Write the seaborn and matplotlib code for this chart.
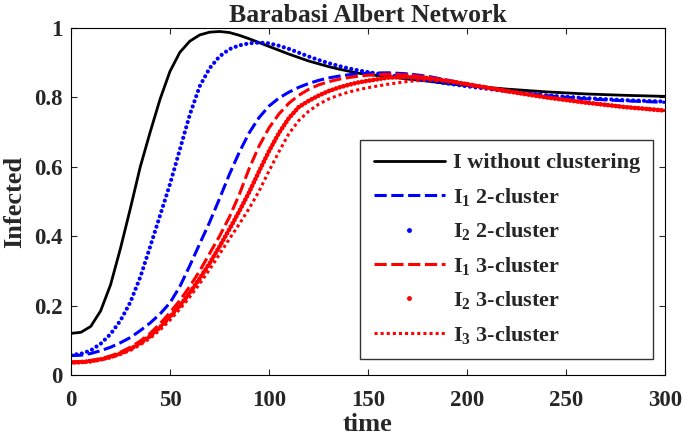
import numpy as np
import pandas as pd
import seaborn as sns
import matplotlib.pyplot as plt
from matplotlib.lines import Line2D

# time grid shared by all curves
time = [0, 5, 10, 15, 20, 25, 30, 35, 40, 45, 50, 55, 60, 65, 70, 75, 80, 85, 90, 95,
        100, 105, 110, 115, 120, 125, 130, 135, 140, 145, 150,
        160, 170, 180, 190, 200, 220, 240, 260, 280, 300]

# I without clustering
i_plain = [0.120, 0.123, 0.140, 0.185, 0.260, 0.365, 0.480, 0.600, 0.700, 0.795,
           0.875, 0.930, 0.962, 0.980, 0.988, 0.990, 0.987, 0.979, 0.969, 0.958,
           0.947, 0.936, 0.925, 0.915, 0.905, 0.897, 0.889, 0.882, 0.876, 0.870,
           0.866, 0.860, 0.853, 0.847, 0.840, 0.834, 0.824, 0.816, 0.810, 0.806, 0.803]

# 2-cluster
i1_two = [0.056, 0.057, 0.062, 0.070, 0.080, 0.093, 0.108, 0.128, 0.150, 0.176,
          0.208, 0.255, 0.315, 0.378, 0.440, 0.508, 0.578, 0.642, 0.698, 0.742,
          0.775, 0.798, 0.815, 0.829, 0.840, 0.849, 0.856, 0.861, 0.865, 0.868,
          0.870, 0.871, 0.868, 0.861, 0.850, 0.838, 0.819, 0.805, 0.796, 0.790, 0.786]
i2_two = [0.058, 0.061, 0.071, 0.090, 0.118, 0.157, 0.210, 0.282, 0.370, 0.460,
          0.550, 0.650, 0.750, 0.832, 0.884, 0.918, 0.939, 0.950, 0.956, 0.958,
          0.956, 0.949, 0.940, 0.929, 0.918, 0.908, 0.899, 0.891, 0.884, 0.878,
          0.873, 0.864, 0.857, 0.849, 0.840, 0.832, 0.818, 0.806, 0.798, 0.792, 0.788]

# 3-cluster
i1_three = [0.038, 0.039, 0.042, 0.047, 0.055, 0.066, 0.080, 0.098, 0.120, 0.148,
            0.180, 0.215, 0.255, 0.300, 0.350, 0.400, 0.455, 0.520, 0.595, 0.660,
            0.712, 0.752, 0.783, 0.806, 0.823, 0.836, 0.845, 0.852, 0.857, 0.861,
            0.864, 0.867, 0.865, 0.858, 0.848, 0.838, 0.818, 0.800, 0.785, 0.772, 0.762]
i2_three = [0.036, 0.037, 0.040, 0.045, 0.052, 0.062, 0.075, 0.092, 0.112, 0.138,
            0.168, 0.200, 0.237, 0.278, 0.322, 0.370, 0.420, 0.472, 0.527, 0.587,
            0.645, 0.697, 0.740, 0.772, 0.790, 0.805, 0.818, 0.828, 0.836, 0.843,
            0.848, 0.857, 0.859, 0.856, 0.848, 0.838, 0.818, 0.800, 0.785, 0.772, 0.762]
i3_three = [0.035, 0.036, 0.038, 0.043, 0.050, 0.059, 0.071, 0.087, 0.106, 0.130,
            0.158, 0.190, 0.225, 0.263, 0.304, 0.348, 0.392, 0.435, 0.480, 0.530,
            0.588, 0.643, 0.695, 0.733, 0.760, 0.780, 0.795, 0.806, 0.815, 0.822,
            0.828, 0.838, 0.846, 0.850, 0.847, 0.840, 0.820, 0.801, 0.786, 0.773, 0.763]

labels = ['I without clustering',
          r'I$_{\mathbf{1}}$ 2-cluster',
          r'I$_{\mathbf{2}}$ 2-cluster',
          r'I$_{\mathbf{1}}$ 3-cluster',
          r'I$_{\mathbf{2}}$ 3-cluster',
          r'I$_{\mathbf{3}}$ 3-cluster']

sns.set_style('ticks')
plt.rcParams['font.family'] = ['Liberation Serif', 'DejaVu Serif']
plt.rcParams['font.weight'] = 'bold'
plt.rcParams['mathtext.fontset'] = 'custom'
plt.rcParams['mathtext.rm'] = 'Liberation Serif:bold'
plt.rcParams['mathtext.bf'] = 'Liberation Serif:bold'
plt.rcParams['mathtext.it'] = 'Liberation Serif:bold'

fig = plt.figure(figsize=(6.85, 4.44), dpi=100)
ax = fig.add_axes([0.1036, 0.1554, 0.8672, 0.7815])

# draw curves
sns.lineplot(x=time, y=i_plain, ax=ax, color='black', linewidth=2.0)
sns.lineplot(x=time, y=i1_two, ax=ax, color='blue', linewidth=2.2,
             linestyle=(0, (4, 1.5)))
sns.lineplot(x=time, y=i2_two, ax=ax, color='blue', linewidth=3.0,
             linestyle=(0, (0.01, 1.3)), dash_capstyle='round')
sns.lineplot(x=time, y=i1_three, ax=ax, color='red', linewidth=2.2,
             linestyle=(0, (4, 1.5)))
sns.lineplot(x=time, y=i2_three, ax=ax, color='red', linewidth=3.4,
             linestyle=(0, (0.01, 0.8)), dash_capstyle='round')
sns.lineplot(x=time, y=i3_three, ax=ax, color='red', linewidth=2.2,
             linestyle=(0, (1, 1)))

ax.set_xlim(0, 300)
ax.set_ylim(0, 1)
ax.set_xticks([0, 50, 100, 150, 200, 250, 300])
ax.set_yticks([0, 0.2, 0.4, 0.6, 0.8, 1])
ax.set_yticklabels(['0', '0.2', '0.4', '0.6', '0.8', '1'])
ax.tick_params(direction='in', top=True, right=True, length=4, width=0.8,
               labelsize=16.5)
ax.tick_params(axis='x', pad=11)
ax.tick_params(axis='y', pad=6)
for sp in ax.spines.values():
    sp.set_visible(True)
    sp.set_linewidth(0.8)
    sp.set_color('black')

ax.set_title('Barabasi Albert Network', fontsize=18.5, fontweight='bold', pad=4)
ax.set_xlabel('time', fontsize=19, fontweight='bold', labelpad=1)
ax.set_ylabel('Infected', fontsize=19, fontweight='bold', labelpad=6)

handles = [
    Line2D([], [], color='black', lw=2.0),
    Line2D([], [], color='blue', lw=2.2, ls=(0, (4, 1.5))),
    Line2D([], [], color='blue', ls='none', marker='.', markersize=5),
    Line2D([], [], color='red', lw=2.2, ls=(0, (4, 1.5))),
    Line2D([], [], color='red', ls='none', marker='.', markersize=5),
    Line2D([], [], color='red', lw=2.2, ls=(0, (1, 1))),
]
leg = ax.legend(handles, labels, loc='lower right', bbox_to_anchor=(0.98, 0.046),
                fontsize=16, handlelength=3.2, handletextpad=0.35,
                labelspacing=0.56, borderpad=0.6, borderaxespad=0,
                fancybox=False, framealpha=1, edgecolor='#333333')
leg.get_frame().set_linewidth(1.0)

fig.savefig('out.png', dpi=100)
